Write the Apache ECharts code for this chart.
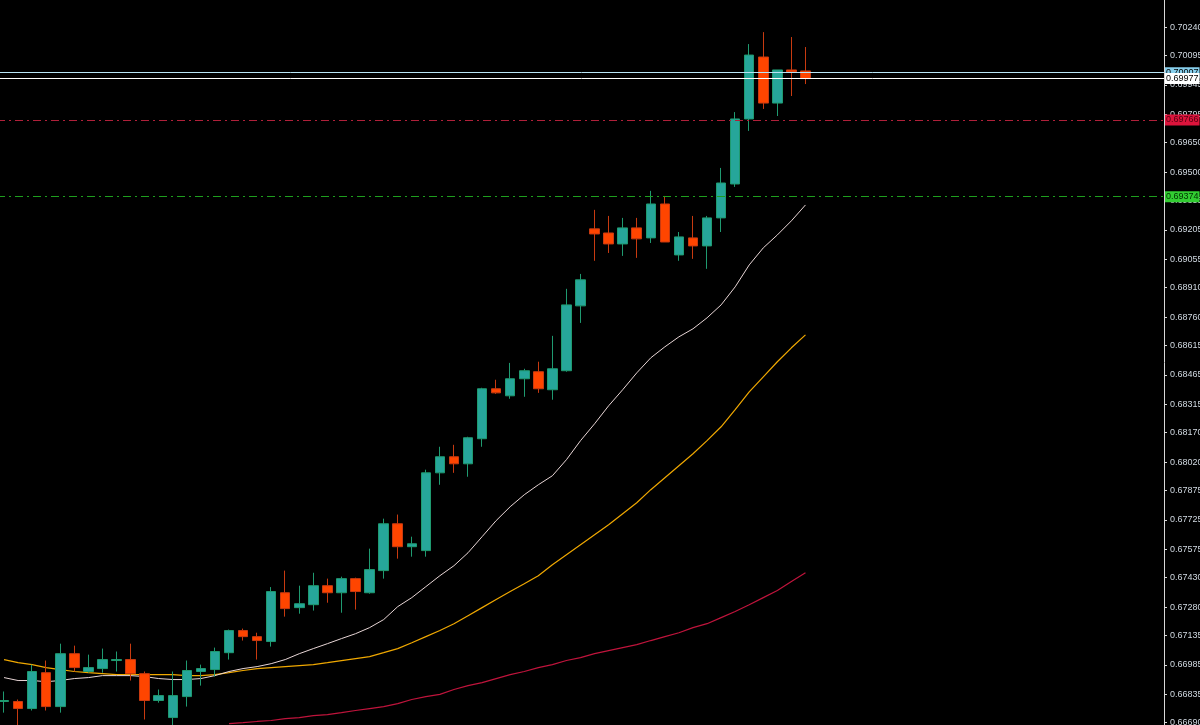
<!DOCTYPE html>
<html><head><meta charset="utf-8">
<script src="https://cdn.jsdelivr.net/npm/echarts@6/dist/echarts.min.js"></script>
<style>html,body{margin:0;padding:0;background:#000}#c{width:1200px;height:725px}</style>
</head><body><div id="c"></div>
<script>
const opens  = [0.66798,0.66798,0.66762,0.66945,0.66772,0.67042,0.66951,0.66966,0.67007,0.67012,0.66940,0.66803,0.66716,0.66823,0.66951,0.66961,0.67047,0.67160,0.67129,0.67104,0.67353,0.67277,0.67292,0.67389,0.67353,0.67425,0.67353,0.67466,0.67705,0.67588,0.67568,0.67965,0.68047,0.68011,0.68139,0.68394,0.68358,0.68445,0.68481,0.68389,0.68486,0.68817,0.69210,0.69189,0.69133,0.69215,0.69164,0.69337,0.69077,0.69164,0.69123,0.69266,0.69439,0.69771,0.70087,0.69852,0.70021,0.70016];
const closes = [0.66803,0.66762,0.66951,0.66772,0.67042,0.66971,0.66971,0.67012,0.67012,0.66940,0.66803,0.66828,0.66828,0.66956,0.66966,0.67053,0.67160,0.67129,0.67109,0.67359,0.67272,0.67297,0.67389,0.67353,0.67425,0.67359,0.67471,0.67705,0.67588,0.67603,0.67965,0.68047,0.68011,0.68144,0.68394,0.68373,0.68445,0.68486,0.68394,0.68496,0.68822,0.68950,0.69184,0.69133,0.69215,0.69159,0.69337,0.69143,0.69169,0.69123,0.69266,0.69444,0.69771,0.70097,0.69852,0.70021,0.70011,0.69977];
const lows   = [0.66741,0.66665,0.66752,0.66752,0.66741,0.66951,0.66945,0.66945,0.66951,0.66905,0.66706,0.66792,0.66675,0.66772,0.66879,0.66925,0.67012,0.67109,0.67012,0.67078,0.67231,0.67246,0.67262,0.67302,0.67251,0.67267,0.67348,0.67425,0.67527,0.67537,0.67537,0.67904,0.67965,0.67945,0.68098,0.68368,0.68343,0.68353,0.68373,0.68338,0.68481,0.68730,0.69047,0.69087,0.69072,0.69062,0.69138,0.69143,0.69047,0.69057,0.69006,0.69194,0.69424,0.69710,0.69822,0.69786,0.69888,0.69949];
const highs  = [0.66849,0.66808,0.66986,0.67007,0.67093,0.67083,0.67037,0.67068,0.67053,0.67093,0.66951,0.66859,0.66951,0.67007,0.66986,0.67073,0.67165,0.67170,0.67149,0.67382,0.67466,0.67389,0.67455,0.67425,0.67435,0.67430,0.67578,0.67731,0.67752,0.67639,0.67981,0.68098,0.68108,0.68149,0.68399,0.68440,0.68526,0.68496,0.68532,0.68664,0.68904,0.68980,0.69307,0.69276,0.69266,0.69266,0.69404,0.69378,0.69194,0.69276,0.69276,0.69521,0.69806,0.70153,0.70214,0.70021,0.70189,0.70138];
const maFast = [0.66920,0.66905,0.66905,0.66899,0.66905,0.66915,0.66920,0.66930,0.66930,0.66930,0.66925,0.66915,0.66910,0.66910,0.66915,0.66930,0.66951,0.66966,0.66976,0.66991,0.67012,0.67042,0.67068,0.67093,0.67119,0.67144,0.67175,0.67216,0.67282,0.67328,0.67384,0.67440,0.67491,0.67557,0.67639,0.67721,0.67792,0.67853,0.67904,0.67950,0.68032,0.68129,0.68215,0.68307,0.68389,0.68475,0.68552,0.68608,0.68659,0.68700,0.68756,0.68822,0.68914,0.69026,0.69113,0.69179,0.69251,0.69332];
const maMid  = [0.67012,0.66996,0.66986,0.66971,0.66961,0.66951,0.66945,0.66940,0.66935,0.66935,0.66935,0.66935,0.66935,0.66930,0.66930,0.66935,0.66945,0.66956,0.66966,0.66971,0.66976,0.66981,0.66986,0.66996,0.67007,0.67017,0.67027,0.67047,0.67068,0.67098,0.67129,0.67160,0.67195,0.67236,0.67277,0.67318,0.67359,0.67399,0.67440,0.67496,0.67547,0.67598,0.67649,0.67700,0.67756,0.67812,0.67879,0.67940,0.68001,0.68062,0.68129,0.68200,0.68287,0.68378,0.68455,0.68532,0.68603,0.68669];
const maSlow = [null,null,null,null,null,null,null,null,null,null,null,null,null,null,null,null,0.66685,0.66690,0.66696,0.66701,0.66711,0.66716,0.66726,0.66731,0.66741,0.66752,0.66762,0.66772,0.66787,0.66808,0.66823,0.66834,0.66859,0.66879,0.66894,0.66915,0.66935,0.66951,0.66971,0.66986,0.67007,0.67022,0.67042,0.67058,0.67073,0.67088,0.67109,0.67129,0.67149,0.67175,0.67195,0.67226,0.67257,0.67292,0.67328,0.67364,0.67410,0.67455];
const tickValues = [0.70240,0.70095,0.69945,0.69795,0.69650,0.69500,0.69355,0.69205,0.69055,0.68910,0.68760,0.68615,0.68465,0.68315,0.68170,0.68020,0.67875,0.67725,0.67575,0.67430,0.67280,0.67135,0.66985,0.66835,0.66690];
const levels = [
  {v:0.70007, line:'#b8e4f5', bg:'#87ceeb', fg:'#000', type:'solid'},
  {v:0.69977, line:'#ffffff', bg:'#ffffff', fg:'#000', type:'solid'},
  {v:0.69766, line:'#b0203a', bg:'#dc143c', fg:'#500010', type:[8,4,2,4]},
  {v:0.69374, line:'#1e9e1e', bg:'#32cd32', fg:'#003000', type:[8,4,2,4]}
];
const N = 83;
const cats = Array.from({length:N},(_,i)=>String(i));
const ohlc = opens.map((o,i)=>[o,closes[i],lows[i],highs[i]]);
const FONT = 'Liberation Sans';

const chart = echarts.init(document.getElementById('c'));
chart.setOption({
  backgroundColor:'#000',
  animation:false,
  grid:{left:-3,right:36,top:0,bottom:0,outerBoundsMode:'none',containLabel:false},
  xAxis:{type:'category',data:cats,boundaryGap:true,show:false},
  yAxis:{type:'value',position:'right',min:0.66678,max:0.70378,
    axisLine:{show:true,lineStyle:{color:'#d8d8d8',width:1}},
    axisTick:{show:true,length:3,lineStyle:{color:'#d8d8d8'},customValues:tickValues},
    axisLabel:{color:'#d0d8e0',fontSize:9,fontFamily:FONT,margin:6,customValues:tickValues,
      formatter:v=>v.toFixed(5)},
    splitLine:{show:false}},
  series:[
    {type:'line',data:maSlow,symbol:'none',lineStyle:{color:'#c0143c',width:1.2},z:2},
    {type:'line',data:maMid,symbol:'none',lineStyle:{color:'#f0a800',width:1.2},z:2},
    {type:'line',data:maFast,symbol:'none',lineStyle:{color:'#e8d6d6',width:1},z:2,
      markLine:{symbol:'none',silent:true,precision:5,
        data:levels.map(l=>({yAxis:l.v,lineStyle:{color:l.line,type:l.type,width:1},
          label:{show:true,position:'end',distance:1,formatter:l.v.toFixed(5),color:l.fg,backgroundColor:l.bg,
            fontSize:9,fontFamily:FONT,padding:[1,1]}}))}},
    {type:'candlestick',data:ohlc,barWidth:10,z:3,
      itemStyle:{color:'#26a69a',color0:'#ff4500',borderColor:'#1f9a70',borderColor0:'#c83a10',borderWidth:1}}
  ]
});
</script></body></html>
